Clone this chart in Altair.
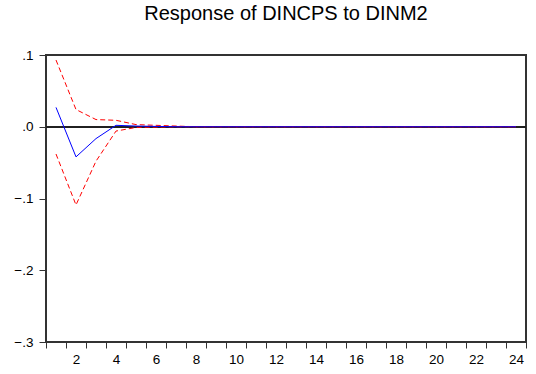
import altair as alt
import pandas as pd

periods = list(range(1, 25))
response = [0.027, -0.042, -0.0165, 0.002, 0.001, 0.0005] + [0.0] * 18
upper = [0.093, 0.024, 0.010, 0.009, 0.003, 0.002, 0.001] + [0.0] * 17
lower = [-0.038, -0.109, -0.048, -0.006, -0.001, -0.0005] + [0.0] * 18

df = pd.DataFrame({"period": periods, "response": response, "upper": upper, "lower": lower})

x_tick_vals = [i + 0.5 for i in range(0, 25)] + list(range(2, 25, 2))
y_tick_vals = [0.1, 0.0, -0.1, -0.2, -0.3]

xscale = alt.Scale(domain=[0.5, 24.5], nice=False, zero=False)
yscale = alt.Scale(domain=[-0.3, 0.1], nice=False, zero=False)

xaxis = alt.Axis(
    values=x_tick_vals, title=None, grid=False, domain=False,
    labelExpr="datum.value % 1 === 0 ? datum.value : ''",
    labelOverlap=False, labelFlush=False, labelBound=False,
    tickOpacity={"condition": {"test": "datum.value % 1 === 0", "value": 0}, "value": 1},
    tickSize=6, tickColor="#333", labelFontSize=13.5, labelColor="#000",
    labelFont="Liberation Sans", labelPadding=4,
)
yaxis = alt.Axis(
    values=y_tick_vals, title=None, grid=False, domain=False,
    labelExpr="replace(format(datum.value, '.1f'), '0.', '.')",
    labelOverlap=False, labelFlush=False,
    tickSize=7, tickColor="#333", labelFontSize=13.5, labelColor="#000",
    labelFont="Liberation Sans", labelPadding=6,
)

base = alt.Chart(df)

X = alt.X("period:Q", scale=xscale, axis=xaxis)

zero = base.mark_rule(color="#222", strokeWidth=1).encode(
    y=alt.datum(0, scale=yscale, axis=yaxis)
)

resp = base.mark_line(color="#0000ff", strokeWidth=1).encode(
    x=X, y=alt.Y("response:Q", scale=yscale, axis=yaxis),
)
up = base.mark_line(color="#ff0000", strokeWidth=1, strokeDash=[5, 3]).encode(
    x=X, y=alt.Y("upper:Q", scale=yscale, axis=yaxis)
)
lo = base.mark_line(color="#ff0000", strokeWidth=1, strokeDash=[5, 3]).encode(
    x=X, y=alt.Y("lower:Q", scale=yscale, axis=yaxis)
)

chart = alt.layer(zero, up, lo, resp).properties(
    width=480, height=287,
    title=alt.TitleParams("Response of DINCPS to DINM2", font="Liberation Sans",
                          fontSize=20, fontWeight="normal", color="#000", offset=24),
    autosize=alt.AutoSizeParams(type="none"),
    padding={"left": 46, "top": 55, "right": 10, "bottom": 32},
    background="white",
).configure_view(stroke="#333", strokeWidth=2)

chart.save("out.html", embed_options={"renderer": "svg", "actions": False})
